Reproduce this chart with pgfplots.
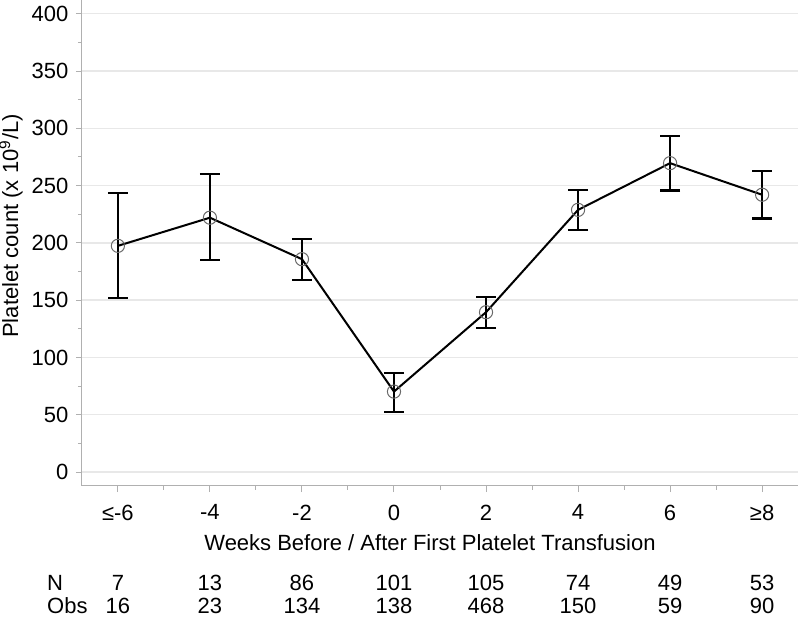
\documentclass[border=0pt]{standalone}
\usepackage{fontspec}
\setmainfont{Liberation Sans}
\usepackage{pgfplots}
\pgfplotsset{compat=1.18}
\usepackage{pgfplotstable}

\definecolor{axisgray}{RGB}{176,176,176}
\definecolor{gridgray}{RGB}{232,232,232}
\definecolor{markgray}{RGB}{105,105,105}

% x: week bin index, y: mean, ep/em: upper/lower error, N and Obs counts
\pgfplotstableread{
x y     ep   em   N   Obs
0 197.4 46.0 45.7 7   16
1 222.0 38.0 37.0 13  23
2 185.8 17.4 18.4 86  134
3 70.2  16.5 17.8 101 138
4 139.5 13.3 13.5 105 468
5 228.8 17.2 17.8 74  150
6 269.6 23.8 23.9 49  59
7 242.0 20.6 20.8 53  90
}\platelets

\begin{document}
\fontsize{11}{13}\selectfont
\begin{tikzpicture}
\begin{axis}[
    scale only axis,
    width=358pt, height=243pt,
    xmin=-0.39, xmax=7.39,
    ymin=-12.2, ymax=412,
    clip=false,
    axis x line*=bottom,
    axis y line*=left,
    axis line style={draw=axisgray, line width=0.5pt},
    xtick={0,...,7},
    xticklabels={≤-6,-4,-2,0,2,4,6,≥8},
    minor xtick={0.5,1.5,...,6.5},
    ytick={0,50,...,400},
    minor ytick={25,75,...,375},
    tick align=outside,
    major tick length=3pt,
    minor tick length=2pt,
    tick style={draw=axisgray, line width=0.5pt},
    ymajorgrids=true,
    grid style={draw=gridgray, line width=0.75pt},
    /pgf/number format/assume math mode=true,
    xticklabel style={yshift=-2.5pt},
    xlabel={Weeks Before / After First Platelet Transfusion},
    xlabel style={at={(axis description cs:0.486,0)}, anchor=center, yshift=-28.5pt},
    ylabel={Platelet count (x 10\textsuperscript{9}/L)},
    ylabel style={at={(axis description cs:-0.0992,0.535)}, anchor=center},
]

\addplot[
    black, line width=1pt,
    mark=o, mark size=3.3pt,
    mark options={draw=markgray, line width=0.5pt},
    error bars/.cd, y dir=both, y explicit,
    error mark=|,
    error bar style={line width=1.1pt, black},
    error mark options={black, line width=1.1pt, mark size=5pt},
    ]
    table[x=x, y=y, y error plus=ep, y error minus=em] {\platelets};

% count rows under the axis
\addplot[draw=none, mark=none, nodes near coords, point meta=explicit symbolic,
    every node near coord/.style={anchor=center, black}]
    table[x=x, y expr=-96.9, meta=N] {\platelets};
\addplot[draw=none, mark=none, nodes near coords, point meta=explicit symbolic,
    every node near coord/.style={anchor=center, black}]
    table[x=x, y expr=-116.5, meta=Obs] {\platelets};
\node[anchor=west, inner sep=0pt] at (axis cs:-0.772,-96.9) {N};
\node[anchor=west, inner sep=0pt] at (axis cs:-0.772,-116.5) {Obs};

\end{axis}
\pgfresetboundingbox
\path[use as bounding box] (-41pt,-65.5pt) rectangle (359pt,243pt);
\end{tikzpicture}
\end{document}
